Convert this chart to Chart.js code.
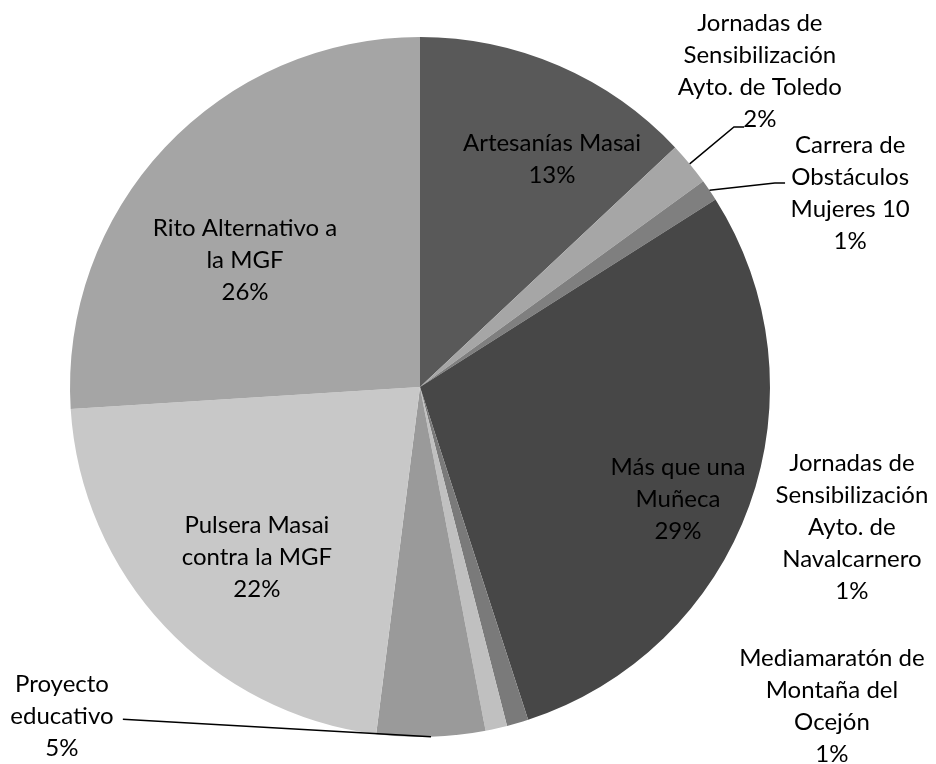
<!DOCTYPE html>
<html>
<head>
<meta charset="utf-8">
<script src="https://cdn.jsdelivr.net/npm/chart.js@4"></script>
<style>
  html, body { margin: 0; padding: 0; background: #fff; }
  #wrap { width: 936px; height: 764px; }
</style>
</head>
<body>
<div id="wrap"><canvas id="chart" width="936" height="764"></canvas></div>
<script>
// categories and values (percent), clockwise from 12 o'clock
const categories = [
    'Artesanías Masai',
    'Jornadas de Sensibilización Ayto. de Toledo',
    'Carrera de Obstáculos Mujeres 10',
    'Más que una Muñeca',
    'Jornadas de Sensibilización Ayto. de Navalcarnero',
    'Mediamaratón de Montaña del Ocejón',
    'Proyecto educativo',
    'Pulsera Masai contra la MGF',
    'Rito Alternativo a la MGF'
];
const values = [13, 2, 1, 29, 1, 1, 5, 22, 26];

// how each category label wraps in the picture
const labelLines = [
    ['Artesanías Masai'],
    ['Jornadas de', 'Sensibilización', 'Ayto. de Toledo'],
    ['Carrera de', 'Obstáculos', 'Mujeres 10'],
    ['Más que una', 'Muñeca'],
    ['Jornadas de', 'Sensibilización', 'Ayto. de', 'Navalcarnero'],
    ['Mediamaratón de', 'Montaña del', 'Ocejón'],
    ['Proyecto', 'educativo'],
    ['Pulsera Masai', 'contra la MGF'],
    ['Rito Alternativo a', 'la MGF']
];

const sliceColors = ['#595959', '#a6a6a6', '#7f7f7f', '#474747', '#7a7a7a',
                     '#c0c0c0', '#9a9a9a', '#c8c8c8', '#a5a5a5'];

// label block centres in units of the pie radius, relative to the pie centre
const labelPos = [
    [0.377, -0.651], [0.971, -0.903], [1.229, -0.554], [0.737, 0.32],
    [1.234, 0.40], [1.177, 0.911], [-1.023, 0.94], [-0.466, 0.486], [-0.50, -0.363]
];
// leader lines: elbow point (relative) then end point, null = no line
const leaders = [
    null,
    [[0.897, -0.743], [0.926, -0.743]],
    [[1.014, -0.583], [1.043, -0.583]],
    null, null, null,
    [[-0.849, 0.949], [-0.849, 0.949]],
    null, null
];

const LINE_H = 32;
const FONT = '24px Lato, "Liberation Sans", sans-serif';

const labelPlugin = {
    id: 'pieLabels',
    afterDatasetsDraw(chart) {
        const ctx = chart.ctx;
        const arcs = chart.getDatasetMeta(0).data;
        const total = values.reduce((a, b) => a + b, 0);
        ctx.save();
        ctx.font = FONT;
        ctx.fillStyle = '#000';
        ctx.textAlign = 'center';
        ctx.textBaseline = 'middle';
        arcs.forEach((arc, i) => {
            const p = arc.getProps(['x', 'y', 'startAngle', 'endAngle', 'outerRadius'], true);
            const r = p.outerRadius;
            const lines = labelLines[i].concat([Math.round(values[i] / total * 100) + '%']);
            const cx = p.x + labelPos[i][0] * r;
            const cy = p.y + labelPos[i][1] * r;
            const top = cy - (lines.length - 1) * LINE_H / 2;
            lines.forEach((t, k) => ctx.fillText(t, cx, top + k * LINE_H));

            const ld = leaders[i];
            if (ld) {
                const mid = (p.startAngle + p.endAngle) / 2;
                ctx.beginPath();
                ctx.strokeStyle = '#000';
                ctx.lineWidth = 1.5;
                ctx.moveTo(p.x + Math.cos(mid) * r, p.y + Math.sin(mid) * r);
                ctx.lineTo(p.x + ld[0][0] * r, p.y + ld[0][1] * r);
                ctx.lineTo(p.x + ld[1][0] * r, p.y + ld[1][1] * r);
                ctx.stroke();
            }
        });
        ctx.restore();
    }
};

new Chart(document.getElementById('chart'), {
    type: 'pie',
    data: {
        labels: categories,
        datasets: [{
            data: values,
            backgroundColor: sliceColors,
            borderWidth: 0
        }]
    },
    options: {
        responsive: false,
        animation: false,
        layout: {
            padding: { left: 70, right: 166, top: 37, bottom: 27 }
        },
        plugins: {
            legend: { display: false },
            tooltip: { enabled: false }
        }
    },
    plugins: [labelPlugin]
});
</script>
</body>
</html>
